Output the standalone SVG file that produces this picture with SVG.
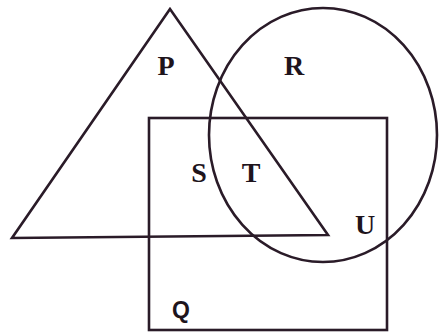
<svg xmlns="http://www.w3.org/2000/svg" width="439" height="333" viewBox="0 0 439 333">
<style>
.s{fill:none;stroke:#2a1b28;stroke-width:2.6;stroke-linejoin:miter}
.l{font-family:"Liberation Serif",serif;font-weight:bold;font-size:28px;fill:#1e141c;text-anchor:middle}
.q{font-family:"Liberation Sans",sans-serif;font-weight:bold;font-size:23px;fill:#1e141c;text-anchor:middle}
</style>
<rect width="439" height="333" fill="#fff"/>
<g id="triangle-P"><polygon class="s" points="170,9 12,238 328,235"/></g>
<g id="circle-R"><ellipse class="s" cx="323" cy="135" rx="114" ry="127"/></g>
<g id="rect-Q"><rect class="s" x="149" y="118" width="238" height="212"/></g>
<g id="labels">
<text class="l" x="166" y="75">P</text>
<text class="l" x="294" y="75">R</text>
<text class="l" x="199" y="182">S</text>
<text class="l" x="251" y="182">T</text>
<text class="l" x="365" y="234">U</text>
<text class="q" x="181" y="318">Q</text>
</g>
</svg>
